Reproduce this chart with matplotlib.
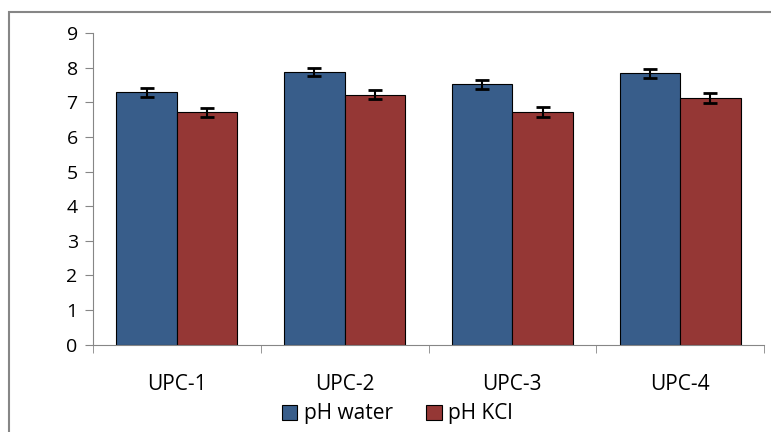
import numpy as np
import matplotlib.pyplot as plt
from matplotlib.patches import Rectangle, Patch

plt.rcParams['font.family'] = ['Open Sans', 'DejaVu Sans']

# datos
samples = ["UPC-1", "UPC-2", "UPC-3", "UPC-4"]
ph_water = [7.29, 7.88, 7.52, 7.84]
ph_water_err = [0.12, 0.12, 0.125, 0.125]
ph_kcl = [6.71, 7.23, 6.73, 7.13]
ph_kcl_err = [0.13, 0.135, 0.14, 0.15]
series_names = ["pH water", "pH KCl"]

blue = "#385D8A"
red = "#953735"
grey = "#868686"

fig = plt.figure(figsize=(7.71, 4.32), dpi=100)
ax = fig.add_axes([93/771, 1 - 344.5/432, (764 - 93)/771, (344.5 - 33.3)/432])

# marco exterior del grafico
fig.patches.append(Rectangle((9/771, -0.1), 1.2, 1.1 - 12/432, transform=fig.transFigure,
                             fill=False, edgecolor=grey, linewidth=1.5))

x = np.arange(len(samples))
w = 0.36
err_kw = dict(ecolor="black", elinewidth=1.5, capsize=5, capthick=2)
ax.bar(x - w/2, ph_water, w, yerr=ph_water_err, color=blue, edgecolor="black",
       linewidth=0.8, error_kw=err_kw, label=series_names[0])
ax.bar(x + w/2, ph_kcl, w, yerr=ph_kcl_err, color=red, edgecolor="black",
       linewidth=0.8, error_kw=err_kw, label=series_names[1])

ax.set_xlim(-0.5, len(samples) - 0.5)
ax.set_ylim(0, 9)
ax.set_yticks(range(10))
ax.set_xticks(x)
ax.set_xticklabels(samples)
ax.set_xticks(np.arange(-0.5, len(samples)), minor=True)
ax.tick_params(axis="x", which="major", length=0, pad=21, labelsize=15)
ax.tick_params(axis="x", which="minor", length=6, color=grey, direction="out")
ax.tick_params(axis="y", length=6, color=grey, labelsize=14, pad=5)

for s in ["top", "right"]:
    ax.spines[s].set_visible(False)
for s in ["left", "bottom"]:
    ax.spines[s].set_color(grey)

handles = [Patch(facecolor=blue, edgecolor="black", linewidth=0.8),
           Patch(facecolor=red, edgecolor="black", linewidth=0.8)]
fig.legend(handles, series_names, loc="center", bbox_to_anchor=(0.515, 1 - 414/432),
           ncol=2, frameon=False, fontsize=15, handlelength=0.75, handleheight=0.75,
           handletextpad=0.3, columnspacing=1.6)

plt.savefig("out.png", dpi=100)
